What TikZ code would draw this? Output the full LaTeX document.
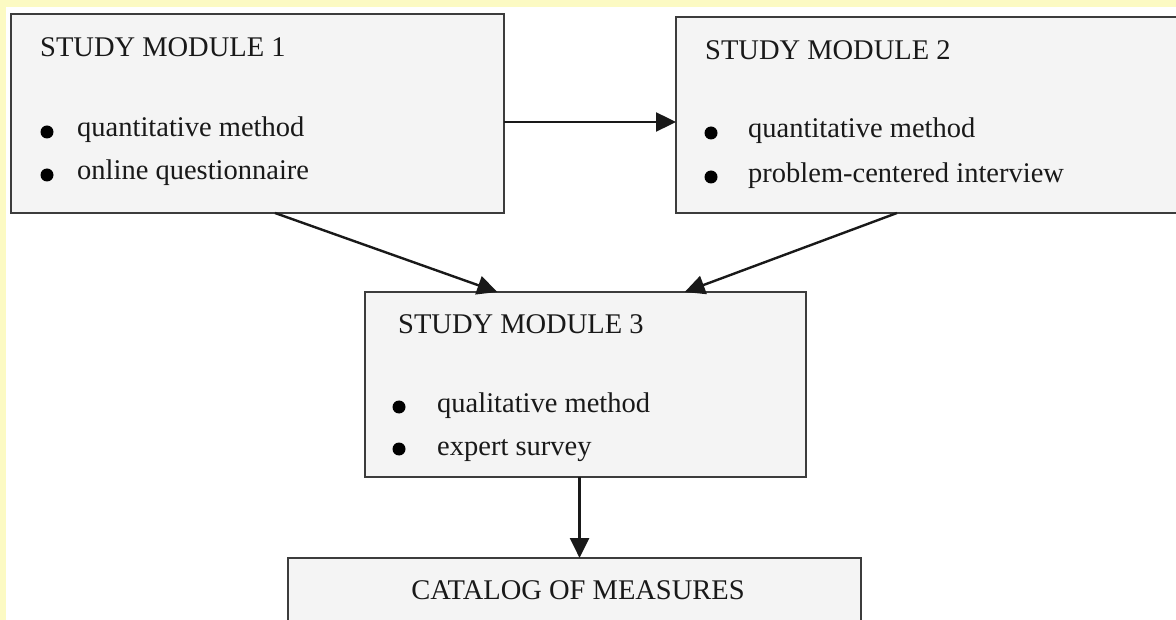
\documentclass[tikz,border=0pt]{standalone}
\usepackage{fontspec}
\setmainfont{Liberation Serif}
\usetikzlibrary{arrows.meta,calc}
\definecolor{bgyellow}{RGB}{252,250,195}
\definecolor{boxfill}{RGB}{244,244,244}
\definecolor{boxline}{RGB}{60,60,60}
\begin{document}
\begin{tikzpicture}[x=1pt,y=-1pt,
  box/.style={draw=boxline,line width=2.2pt,fill=boxfill,inner sep=0pt,outer sep=0pt},
  txt/.style={anchor=base west,inner sep=0pt,font=\fontsize{28.5}{34}\selectfont,text=black!90},
  bul/.style={fill=black,circle,inner sep=0pt,minimum size=13pt},
  arr/.style={draw=black!90,line width=2.4pt,-{Triangle[length=20pt,width=19pt]}}]
\useasboundingbox (0,0) rectangle (1176,620);
\clip (0,0) rectangle (1176,620);
\fill[white] (0,0) rectangle (1176,620);
\fill[bgyellow] (0,0) rectangle (1176,7);
\fill[bgyellow] (0,0) rectangle (6,620);
% boxes
\node[box,minimum width=493pt,minimum height=199pt] (b1) at (257.5,113.5) {};
\node[box,minimum width=520pt,minimum height=196pt] (b2) at (936,115) {};
\node[box,minimum width=441pt,minimum height=185pt] (b3) at (585.5,384.5) {};
\node[box,minimum width=573pt,minimum height=160pt] (b4) at (574.5,638) {};
% texts box 1
\node[txt] (t1) at (40,57) {STUDY MODULE 1};
\node[bul] (p11) at (47,132) {};
\node[txt] (t11) at (77,137) {quantitative method};
\node[bul] (p12) at (47,175) {};
\node[txt] (t12) at (77,180) {online questionnaire};
% texts box 2
\node[txt] (t2) at (705,60) {STUDY MODULE 2};
\node[bul] (p21) at (711,133) {};
\node[txt] (t21) at (748,138) {quantitative method};
\node[bul] (p22) at (711,177) {};
\node[txt] (t22) at (748,183) {problem-centered interview};
% texts box 3
\node[txt] (t3) at (398,334) {STUDY MODULE 3};
\node[bul] (p31) at (399,407) {};
\node[txt] (t31) at (437,413) {qualitative method};
\node[bul] (p32) at (399,449) {};
\node[txt] (t32) at (437,455) {expert survey};
% box 4
\node[txt,anchor=base] (t4) at (578,599) {CATALOG OF MEASURES};
% connectors
\draw[arr] ($(b1.east)+(0,8.5)$) -- ($(b2.west)+(0,7)$);
\draw[arr] ($(b1.south west)!0.5355!(b1.south east)$) -- ($(b3.north west)!0.30!(b3.north east)$);
\draw[arr] ($(b2.south west)!0.425!(b2.south east)$) -- ($(b3.north west)!0.725!(b3.north east)$);
\coordinate (c3) at ($(b3.south west)!0.4865!(b3.south east)$);
\draw[arr] (c3) -- (c3 |- b4.north);
\end{tikzpicture}
\end{document}
